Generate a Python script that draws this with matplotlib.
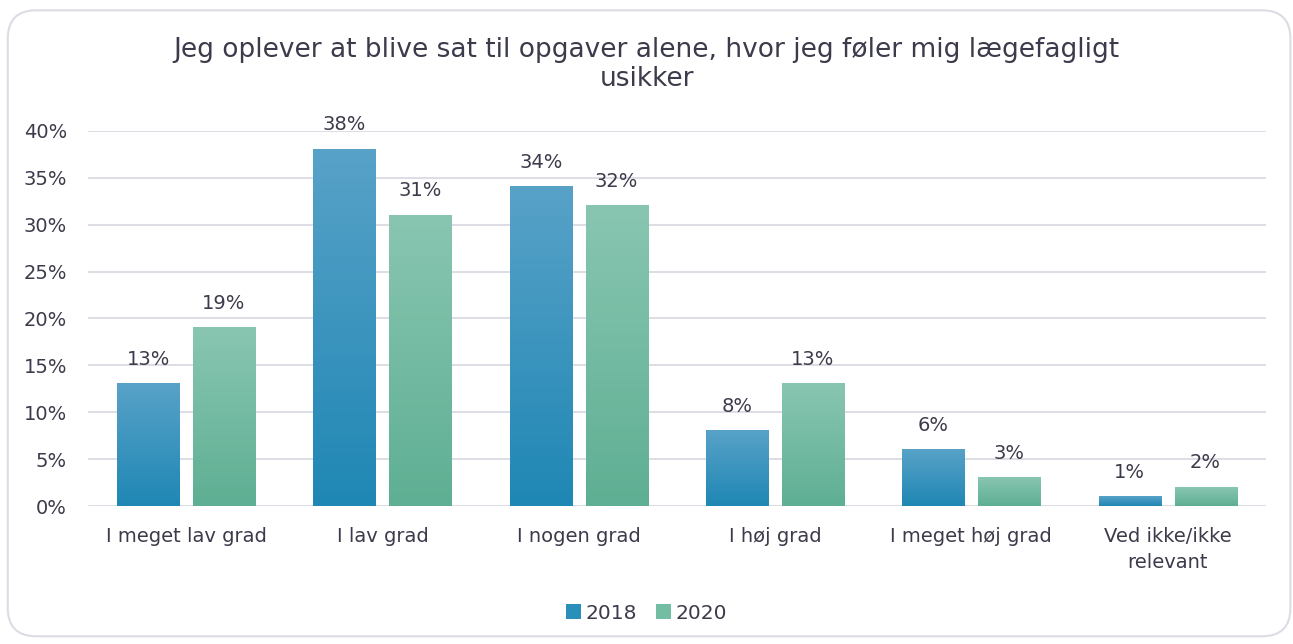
import matplotlib
matplotlib.use("Agg")
import matplotlib.pyplot as plt
import numpy as np
from matplotlib.patches import FancyBboxPatch, Patch
from matplotlib.colors import LinearSegmentedColormap

categories = ["I meget lav grad", "I lav grad", "I nogen grad", "I høj grad",
              "I meget høj grad", "Ved ikke/ikke\nrelevant"]
series_names = ["2018", "2020"]
values_2018 = [13, 38, 34, 8, 6, 1]
values_2020 = [19, 31, 32, 13, 3, 2]
yticks = [0, 5, 10, 15, 20, 25, 30, 35, 40]
title = "Jeg oplever at blive sat til opgaver alene, hvor jeg føler mig lægefagligt\nusikker"

plt.rcParams['font.family'] = ['DejaVu Sans']
txt = "#3b3b4b"
grid_c = "#dadae3"

fig = plt.figure(figsize=(12.93, 6.44), dpi=100)
border = FancyBboxPatch((0.006, 0.012), 0.992, 0.972, boxstyle="round,pad=0,rounding_size=0.022",
                        transform=fig.transFigure, facecolor="white",
                        edgecolor="#dcdce4", linewidth=1.5, mutation_aspect=2.0, zorder=-5)
fig.patches.append(border)
ax = fig.add_axes([0.068, 0.214, 0.911, 0.583])
ax.set_facecolor("none")

x = np.arange(len(categories))
w = 0.316
gap = 0.07
grads = {
    "2018": ("#58a2c8", "#1f87b4"),
    "2020": ("#89c6b1", "#5eaf93"),
}
legend_colors = {"2018": "#2a8fbb", "2020": "#73bea3"}

for name, vals, off in [("2018", values_2018, -(w/2 + gap/2)), ("2020", values_2020, (w/2 + gap/2))]:
    top_c, bot_c = grads[name]
    cmap = LinearSegmentedColormap.from_list(name, [bot_c, top_c])
    bars = ax.bar(x + off, vals, w, color="none", zorder=3)
    for b, v in zip(bars, vals):
        x0 = b.get_x()
        grad = np.linspace(0, 1, 256).reshape(-1, 1)
        ax.imshow(grad, cmap=cmap, origin="lower", aspect="auto",
                  extent=[x0, x0 + w, 0, v], zorder=3)
        ax.text(x0 + w/2, v + 1.6, f"{v}%", ha="center", va="bottom",
                fontsize=14, color=txt, zorder=4)

ax.set_xlim(-0.5, len(categories) - 0.5)
ax.set_ylim(0, 40)
ax.set_yticks(yticks)
ax.set_yticklabels([f"{t}%" for t in yticks])
ax.set_xticks(x)
ax.set_xticklabels(categories, linespacing=1.45)
ax.tick_params(axis="both", length=0, labelsize=14, colors=txt)
ax.tick_params(axis="x", pad=15)
ax.tick_params(axis="y", pad=15)
ax.grid(axis="y", color=grid_c, linewidth=1.3, zorder=0)
ax.set_axisbelow(True)
for s in ax.spines.values():
    s.set_visible(False)

fig.text(0.5, 0.9, title, ha="center", va="center", fontsize=19, color=txt, linespacing=1.15)

handles = [Patch(facecolor=legend_colors[n], label=n) for n in series_names]
fig.legend(handles=handles, loc="center", bbox_to_anchor=(0.5, 0.048), ncol=2, frameon=False,
           fontsize=14.5, labelcolor=txt, handlelength=0.75, handleheight=0.75,
           handletextpad=0.25, columnspacing=0.9)

fig.savefig("out.png", dpi=100)
